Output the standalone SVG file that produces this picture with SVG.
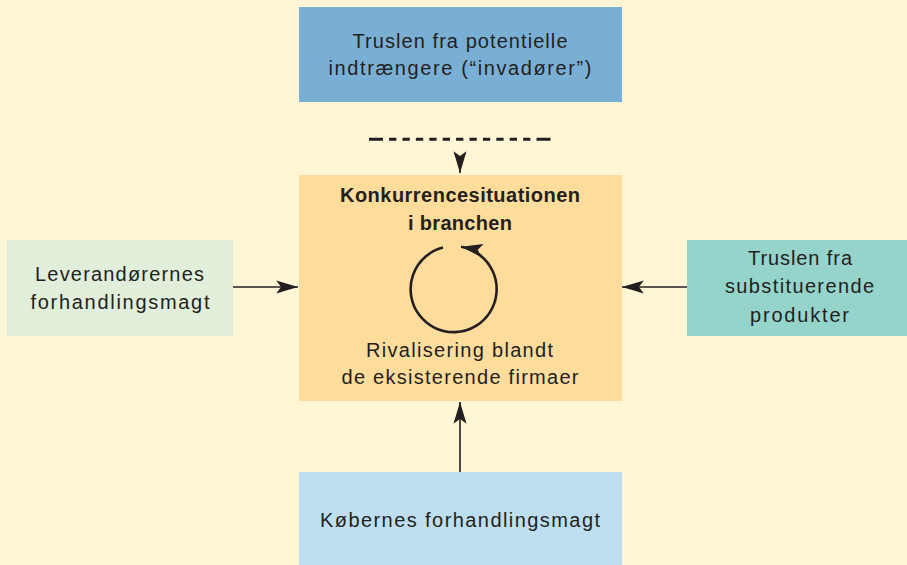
<svg xmlns="http://www.w3.org/2000/svg" width="907" height="565" viewBox="0 0 907 565">
  <style>
    .t { font-family: "Liberation Sans", Arial, sans-serif; font-size: 20px; fill: #231f20; text-anchor: middle; }
    .b { font-weight: bold; }
    .ln { stroke: #231f20; stroke-width: 1.6; fill: none; }
    .dash { stroke-width: 3; }
    .loop { stroke-width: 2.6; }
  </style>
  <defs>
    <marker id="head" markerUnits="userSpaceOnUse" markerWidth="24" markerHeight="16" refX="20" refY="6" orient="auto" viewBox="0 0 22 12">
      <path d="M20,6 L0,0 L4.5,6 L0,12 Z" fill="#231f20"/>
    </marker>
  </defs>

  <!-- backdrop -->
  <rect x="0" y="0" width="907" height="565" fill="#fff6d6"/>

  <!-- threat of new entrants -->
  <g id="entrants">
    <rect x="299" y="7" width="323" height="95" fill="#7aafd5"/>
    <text class="t" x="460" y="48" textLength="215" lengthAdjust="spacing">Truslen fra potentielle</text>
    <text class="t" x="460" y="75" textLength="263" lengthAdjust="spacing">indtrængere (“invadører”)</text>
  </g>

  <!-- industry rivalry -->
  <g id="rivalry">
    <rect x="299" y="175" width="323" height="226" fill="#fedc9c"/>
    <text class="t b" x="460" y="202" textLength="240" lengthAdjust="spacing">Konkurrencesituationen</text>
    <text class="t b" x="460" y="230" textLength="104" lengthAdjust="spacing">i branchen</text>
    <path class="ln loop" d="M443,247.5 A43,43 0 1 0 461,246.8" marker-end="url(#head)"/>
    <text class="t" x="459.5" y="357" textLength="187" lengthAdjust="spacing">Rivalisering blandt</text>
    <text class="t" x="460" y="384" textLength="237" lengthAdjust="spacing">de eksisterende firmaer</text>
  </g>

  <!-- supplier power -->
  <g id="suppliers">
    <rect x="7" y="240" width="226" height="96" fill="#e1eed9"/>
    <text class="t" x="119.5" y="281" textLength="169" lengthAdjust="spacing">Leverandørernes</text>
    <text class="t" x="120" y="309" textLength="179" lengthAdjust="spacing">forhandlingsmagt</text>
  </g>

  <!-- substitutes -->
  <g id="substitutes">
    <rect x="687" y="240" width="220" height="96" fill="#94d4ca"/>
    <text class="t" x="800" y="265" textLength="104" lengthAdjust="spacing">Truslen fra</text>
    <text class="t" x="799.5" y="293" textLength="149" lengthAdjust="spacing">substituerende</text>
    <text class="t" x="799.5" y="322" textLength="99" lengthAdjust="spacing">produkter</text>
  </g>

  <!-- buyer power -->
  <g id="buyers">
    <rect x="299" y="472" width="323" height="93" fill="#bddfef"/>
    <text class="t" x="460" y="527" textLength="280" lengthAdjust="spacing">Købernes forhandlingsmagt</text>
  </g>

  <!-- connectors -->
  <g id="connectors">
    <line class="ln dash" x1="369" y1="139.3" x2="551" y2="139.3"
      stroke-dasharray="14 6.1 7.3 6.1 7.3 6.1 7.3 6.1 7.3 6.1 7.3 6.1 7.3 6.1 7.3 6.1 7.3 6.1 7.3 6.1 7.3 6.1 7.3 6.1 14"/>
    <line class="ln" x1="460" y1="160" x2="460" y2="173" marker-end="url(#head)"/>
    <line class="ln" x1="233" y1="287" x2="298" y2="287" marker-end="url(#head)"/>
    <line class="ln" x1="687" y1="287" x2="622" y2="287" marker-end="url(#head)"/>
    <line class="ln" x1="460" y1="472" x2="460" y2="402" marker-end="url(#head)"/>
  </g>
</svg>
